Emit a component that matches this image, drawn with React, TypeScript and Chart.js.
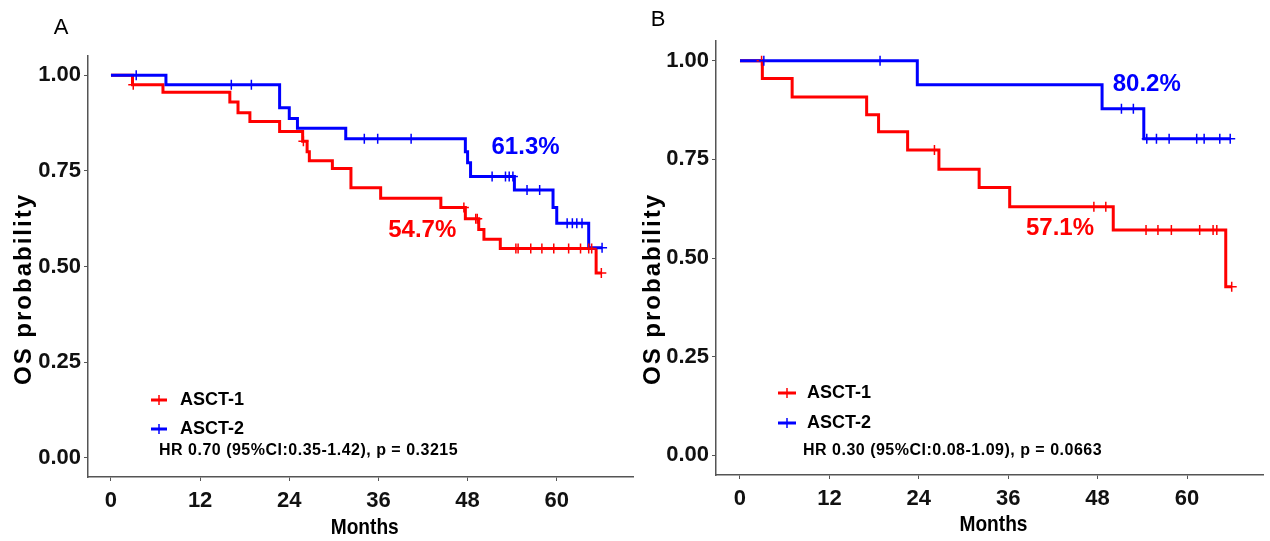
import { useEffect, useRef } from "react";
import { Chart, registerables } from "chart.js";

Chart.register(...registerables);

// ---------- shared axis values ----------
const monthTicks = [0, 12, 24, 36, 48, 60];
const probTicks = [0, 0.25, 0.5, 0.75, 1];
const groupNames = ["ASCT-1", "ASCT-2"];
const landmarkMonth = 60;

// ---------- panel A: step times (months) and survival after each step ----------
const aAsct1Times = [0, 2.9, 7.0, 16.0, 17.1, 18.7, 22.7, 25.8, 26.4, 26.7, 29.8, 32.3, 36.3, 44.4, 47.7, 49.5, 50.2, 52.4, 65.3, 66.0];
const aAsct1Surv = [1, 0.975, 0.955, 0.93, 0.902, 0.879, 0.853, 0.827, 0.8, 0.776, 0.756, 0.706, 0.678, 0.654, 0.625, 0.597, 0.571, 0.547, 0.483, 0.483];
const aAsct1Censored = [3.0, 25.9, 47.5, 49.1, 49.3, 54.5, 54.8, 56.5, 58.0, 59.6, 61.6, 63.2, 64.3, 64.7, 66.0];

const aAsct2Times = [0, 7.4, 22.7, 24.0, 25.1, 31.6, 47.7, 48.0, 48.4, 54.3, 59.5, 60.0, 64.3, 66.1];
const aAsct2Surv = [1, 0.975, 0.915, 0.887, 0.861, 0.834, 0.8, 0.771, 0.735, 0.7, 0.654, 0.613, 0.549, 0.549];
const aAsct2Censored = [3.4, 16.2, 18.9, 34.1, 35.9, 40.4, 51.3, 53.1, 53.6, 54.1, 56.0, 57.7, 61.4, 62.1, 62.7, 63.4, 66.1];

const aHazardText = "HR 0.70 (95%CI:0.35-1.42), p = 0.3215";

// ---------- panel B ----------
const bAsct1Times = [0, 3.0, 7.0, 17.0, 18.6, 22.5, 26.7, 32.1, 36.2, 50.1, 65.2, 66.0];
const bAsct1Surv = [1, 0.955, 0.908, 0.863, 0.82, 0.774, 0.725, 0.679, 0.63, 0.571, 0.427, 0.427];
const bAsct1Censored = [2.9, 26.1, 47.5, 49.1, 54.5, 56.1, 57.9, 61.7, 63.5, 64.0, 66.0];

const bAsct2Times = [0, 23.8, 48.6, 54.2, 65.8];
const bAsct2Surv = [1, 0.939, 0.878, 0.802, 0.802];
const bAsct2Censored = [3.2, 18.8, 51.2, 52.8, 54.6, 55.9, 57.6, 61.3, 62.3, 64.4, 65.8];

const bHazardText = "HR 0.30 (95%CI:0.08-1.09), p = 0.0663";

// ---------- styling ----------
const FONT = '"Liberation Sans", Arial, Helvetica, sans-serif';
const groupColors = ["#FF0000", "#0000FF"];
const axisColor = "#555555";
const CANVAS_H = 541;

// Kaplan–Meier step value at time t
function survAt(times: number[], surv: number[], t: number) {
  let v = surv[0];
  for (let i = 0; i < times.length; i++) {
    if (times[i] <= t) v = surv[i];
  }
  return v;
}

type Group = { times: number[]; surv: number[]; censored: number[] };

type PanelLayout = {
  letter: string;
  left: number;
  width: number;
  area: { left: number; right: number; top: number; bottom: number };
  xMin: number;
  xMax: number;
  groups: Group[];
  hazard: string;
  letterPos: [number, number];
  yTitlePos: [number, number];
  xTitleY: number;
  legend: { markX: number; markHalf: number; textX: number; rows: number[]; hazardX: number; hazardY: number };
  labelPos: [number, number][]; // month / probability anchors for landmark labels
};

const panels: PanelLayout[] = [
  {
    letter: "A",
    left: 0,
    width: 640,
    area: { left: 88, right: 635, top: 56, bottom: 477 },
    xMin: -3.09,
    xMax: 70.33,
    groups: [
      { times: aAsct1Times, surv: aAsct1Surv, censored: aAsct1Censored },
      { times: aAsct2Times, surv: aAsct2Surv, censored: aAsct2Censored },
    ],
    hazard: aHazardText,
    letterPos: [61, 28],
    yTitlePos: [24, 289],
    xTitleY: 528,
    legend: { markX: 159, markHalf: 8, textX: 180, rows: [400, 429], hazardX: 159, hazardY: 451 },
    labelPos: [
      [41.9, 0.595],
      [55.8, 0.812],
    ],
  },
  {
    letter: "B",
    left: 640,
    width: 630,
    area: { left: 76, right: 623, top: 41, bottom: 475 },
    xMin: -3.22,
    xMax: 70.2,
    groups: [
      { times: bAsct1Times, surv: bAsct1Surv, censored: bAsct1Censored },
      { times: bAsct2Times, surv: bAsct2Surv, censored: bAsct2Censored },
    ],
    hazard: bHazardText,
    letterPos: [18, 20],
    yTitlePos: [13, 289],
    xTitleY: 525,
    legend: { markX: 147, markHalf: 9, textX: 167, rows: [393, 423], hazardX: 163, hazardY: 451 },
    labelPos: [
      [42.95, 0.574],
      [54.6, 0.941],
    ],
  },
];

function overlayPlugin(p: PanelLayout) {
  return {
    id: "kmOverlay",
    afterDraw(chart: any) {
      const { ctx, chartArea, scales } = chart;
      ctx.save();

      // panel letter
      ctx.fillStyle = "#000";
      ctx.textAlign = "center";
      ctx.textBaseline = "middle";
      ctx.font = `22px ${FONT}`;
      ctx.fillText(p.letter, p.letterPos[0], p.letterPos[1]);

      // y axis title
      ctx.save();
      ctx.translate(p.yTitlePos[0], p.yTitlePos[1]);
      ctx.rotate(-Math.PI / 2);
      ctx.font = `bold 24px ${FONT}`;
      (ctx as any).letterSpacing = "2px";
      ctx.fillText("OS probability", 0, 0);
      ctx.restore();

      // x axis title (slightly condensed)
      ctx.save();
      ctx.translate((chartArea.left + chartArea.right) / 2 + 4, p.xTitleY);
      ctx.scale(0.87, 1);
      ctx.font = `bold 22px ${FONT}`;
      ctx.fillText("Months", 0, 0);
      ctx.restore();

      // landmark survival labels
      ctx.font = `bold 24px ${FONT}`;
      p.groups.forEach((g, i) => {
        const v = survAt(g.times, g.surv, landmarkMonth);
        const [m, pr] = p.labelPos[i];
        ctx.fillStyle = groupColors[i];
        ctx.fillText(`${(v * 100).toFixed(1)}%`, scales.x.getPixelForValue(m), scales.y.getPixelForValue(pr));
      });

      // legend
      const lg = p.legend;
      ctx.textAlign = "left";
      groupNames.forEach((name, i) => {
        const y = lg.rows[i];
        ctx.strokeStyle = groupColors[i];
        ctx.lineWidth = 3;
        ctx.beginPath();
        ctx.moveTo(lg.markX - lg.markHalf, y);
        ctx.lineTo(lg.markX + lg.markHalf, y);
        ctx.stroke();
        ctx.lineWidth = 1.5;
        ctx.beginPath();
        ctx.moveTo(lg.markX, y - 5);
        ctx.lineTo(lg.markX, y + 5);
        ctx.stroke();
        ctx.fillStyle = "#000";
        ctx.font = `bold 18px ${FONT}`;
        ctx.fillText(name, lg.textX, y);
      });
      ctx.font = `bold 16px ${FONT}`;
      (ctx as any).letterSpacing = "0.5px";
      ctx.fillStyle = "#000";
      ctx.fillText(p.hazard, lg.hazardX, lg.hazardY);

      ctx.restore();
    },
  };
}

function buildConfig(p: PanelLayout): any {
  // horizontal run first, then the drop at each event time
  const curves = p.groups.map((g, i) => ({
    type: "line",
    label: groupNames[i],
    data: g.times.map((t, k) => ({ x: t, y: g.surv[k] })),
    borderColor: groupColors[i],
    backgroundColor: groupColors[i],
    borderWidth: 3,
    stepped: "before",
    pointRadius: 0,
    fill: false,
    order: 4 - i,
  }));
  const censors = p.groups.map((g, i) => ({
    type: "line",
    label: `${groupNames[i]} censored`,
    data: g.censored.map((t) => ({ x: t, y: survAt(g.times, g.surv, t) })),
    showLine: false,
    pointStyle: "cross",
    pointRadius: 5,
    pointBorderWidth: 1.5,
    pointBorderColor: groupColors[i],
    pointBackgroundColor: groupColors[i],
    borderColor: groupColors[i],
    order: 2 - i,
  }));

  const tickFont = { family: FONT, size: 22, weight: "bold" as const };

  return {
    type: "line",
    data: { datasets: [...curves, ...censors] },
    options: {
      responsive: false,
      animation: false,
      devicePixelRatio: 1,
      events: [],
      layout: {
        padding: {
          left: 0,
          right: p.width - p.area.right,
          top: p.area.top,
          bottom: 0,
        },
      },
      plugins: { legend: { display: false }, tooltip: { enabled: false } },
      scales: {
        x: {
          type: "linear",
          min: p.xMin,
          max: p.xMax,
          afterBuildTicks: (s: any) => {
            s.ticks = monthTicks.map((v) => ({ value: v }));
          },
          afterFit: (s: any) => {
            s.height = CANVAS_H - p.area.bottom;
          },
          ticks: {
            autoSkip: false,
            maxRotation: 0,
            padding: 7,
            color: "#111",
            font: tickFont,
            callback: (v: number) => String(v),
          },
          grid: { drawOnChartArea: false, drawTicks: true, tickLength: 4, color: axisColor, lineWidth: 1 },
          border: { display: true, color: axisColor, width: 1.5 },
        },
        y: {
          type: "linear",
          min: -0.05,
          max: 1.05,
          afterBuildTicks: (s: any) => {
            s.ticks = probTicks.map((v) => ({ value: v }));
          },
          afterFit: (s: any) => {
            s.width = p.area.left;
          },
          ticks: {
            autoSkip: false,
            padding: 3,
            color: "#111",
            font: tickFont,
            callback: (v: number) => v.toFixed(2),
          },
          grid: { drawOnChartArea: false, drawTicks: true, tickLength: 4, color: axisColor, lineWidth: 1 },
          border: { display: true, color: axisColor, width: 1.5 },
        },
      },
    },
    plugins: [overlayPlugin(p)],
  };
}

function KmPanel({ panel }: { panel: PanelLayout }) {
  const ref = useRef<HTMLCanvasElement>(null);
  useEffect(() => {
    if (!ref.current) return;
    const chart = new Chart(ref.current, buildConfig(panel));
    return () => chart.destroy();
  }, [panel]);
  return (
    <canvas
      ref={ref}
      width={panel.width}
      height={CANVAS_H}
      style={{ position: "absolute", left: panel.left, top: 0, width: panel.width, height: CANVAS_H }}
    />
  );
}

export default function App() {
  return (
    <div
      style={{
        position: "fixed",
        left: 0,
        top: 0,
        width: 1270,
        height: CANVAS_H,
        background: "#ffffff",
        overflow: "hidden",
      }}
    >
      {panels.map((p) => (
        <KmPanel key={p.letter} panel={p} />
      ))}
    </div>
  );
}
